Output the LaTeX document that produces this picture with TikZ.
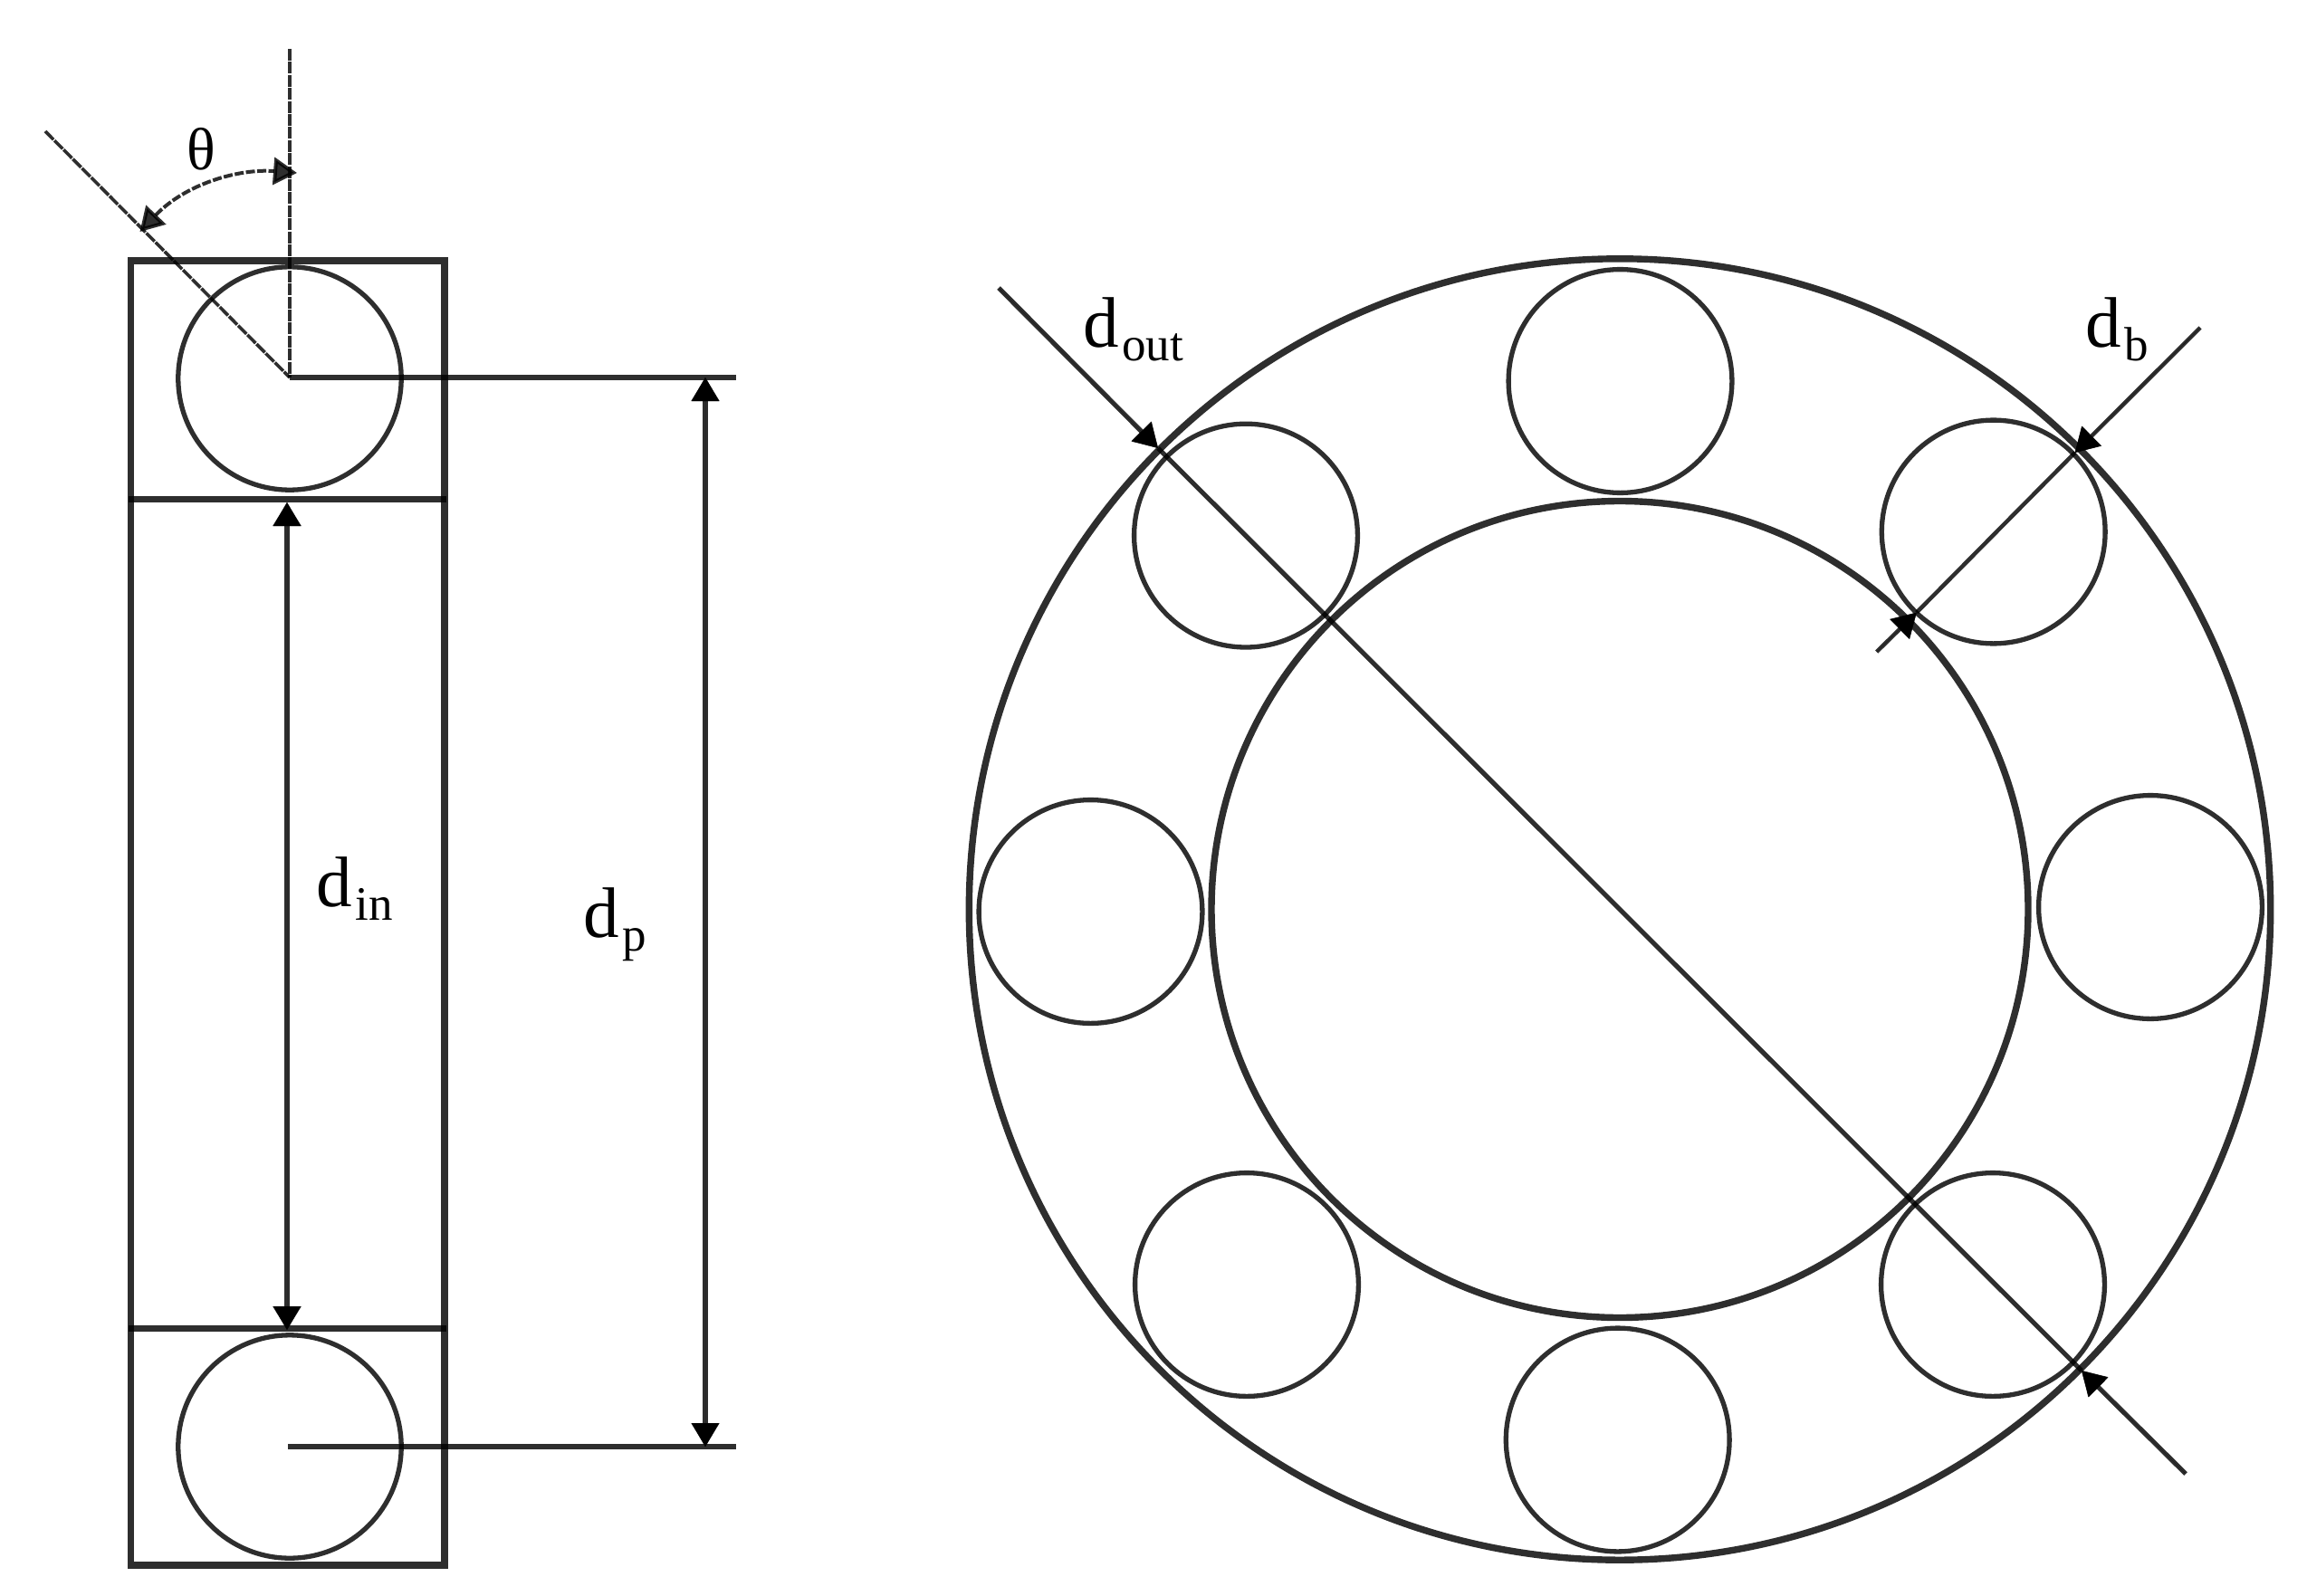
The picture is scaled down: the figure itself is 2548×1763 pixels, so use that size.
\documentclass[tikz,border=0pt]{standalone}
\usepackage{fontspec}
\setmainfont{Liberation Serif}
\usetikzlibrary{arrows.meta}
\newcommand{\dlabel}[1]{\fontsize{79}{79}\selectfont d\kern3.5pt\raisebox{-15pt}{\fontsize{53}{53}\selectfont #1}}
\tikzset{
  ink/.style={draw=black,opacity=.82},
  frame/.style={ink,line width=7.8pt},
  bearingring/.style={ink,line width=7.4pt},
  ball/.style={ink,line width=5.3pt},
  rule/.style={ink,line width=5.8pt},
  fine/.style={ink,line width=3.6pt,dash pattern=on 13pt off 1.4pt},
  headtip/.style={-{Triangle[length=26pt,width=30pt]}},
  dim/.style={ink,line width=#1,headtip,postaction={draw=black,opacity=1,line width=.01pt,headtip}},
  dim/.default=5pt,
  lab/.style={anchor=base west,inner sep=0pt,outer sep=0pt,text=black}
}
\begin{document}
\begin{tikzpicture}[x=1pt,y=-1pt]
\useasboundingbox (0,0) rectangle (2548,1763);
% --- named points, side view
\coordinate (rTL) at (144.5,288);
\coordinate (rBR) at (491,1729);
\coordinate (mAL) at (142,551.5);
\coordinate (mAR) at (493,551.5);
\coordinate (mBL) at (142,1467);
\coordinate (mBR) at (493,1467);
\coordinate (cTop) at (320,418);
\coordinate (cBot) at (320,1598);
\coordinate (vTop) at (320,54);
\coordinate (slant) at (50,145);
\coordinate (axis) at (320,417);
\coordinate (hAe) at (813,417);
\coordinate (hBs) at (318,1598);
\coordinate (hBe) at (813,1598);
\coordinate (pT) at (779,417);
\coordinate (pB) at (779,1598);
\coordinate (pM) at (779,1000);
\coordinate (iT) at (317,555);
\coordinate (iB) at (317,1469);
\coordinate (iM) at (317,1000);
\coordinate (arcA) at (328,191);
\coordinate (arcB) at (154.5,256);
% side view
\draw[frame] (rTL) rectangle (rBR);
\draw[frame,line width=7pt] (mAL) -- (mAR);
\draw[frame,line width=7pt] (mBL) -- (mBR);
\draw[ball] (cTop) circle[radius=123.2pt];
\draw[ball] (cBot) circle[radius=123.2pt];
\draw[fine] (vTop) -- (axis);
\draw[fine] (slant) -- (axis);
\draw[rule] (axis) -- (hAe);
\draw[rule] (hBs) -- (hBe);
\draw[dim=5.2pt] (pM) -- (pT);
\draw[dim=5.2pt] (pM) -- (pB);
\draw[dim=6pt] (iM) -- (iT);
\draw[dim=6pt] (iM) -- (iB);
\draw[ink,line width=4pt,dash pattern=on 10pt off 2.5pt,{Triangle[length=26pt,width=30pt]}-{Triangle[length=26pt,width=30pt]}] (arcB) .. controls (205,203) and (264,186) .. (arcA);
% --- front view
\coordinate (O) at (1789,1004.5);
\draw[bearingring] (O) circle[radius=718.7pt];
\draw[bearingring] (O) circle[radius=451pt];
\foreach \n/\x/\y in {N/1789.5/421,S/1786.7/1590.5,W/1204.5/1007,E/2375/1002,NW/1376/591.6,NE/2201.7/587.5,SE/2201/1419,SW/1377/1419}{
  \coordinate (b\n) at (\x,\y);
  \draw[ball] (b\n) circle[radius=123.4pt];
}
% diagonal
\coordinate (dA) at (1103,318);
\coordinate (dAtip) at (1279,495);
\coordinate (dB) at (2414,1628);
\coordinate (dBtip) at (2299,1514);
\draw[ink,line width=5.2pt] (dAtip) -- (dBtip);
\draw[dim=5.2pt] (dA) -- (dAtip);
\draw[dim=5.2pt] (dB) -- (dBtip);
% ball diameter
\coordinate (eA) at (2430,362);
\coordinate (eAtip) at (2291.7,500);
\coordinate (eB) at (2072.7,720);
\coordinate (eBtip) at (2116.7,676.7);
\draw[ink,line width=4.5pt] (eAtip) -- (eBtip);
\draw[dim=4.5pt] (eA) -- (eAtip);
\draw[dim=4.5pt] (eB) -- (eBtip);
% labels
\node[lab] (ltheta) at (206,187.5) {\fontsize{66}{66}\selectfont θ};
\node[lab] (ldout) at (1196,383) {\dlabel{out}};
\node[lab] (ldb) at (2303,383) {\dlabel{b}};
\node[lab] (ldin) at (349.7,1001.5) {\dlabel{in}};
\node[lab] (ldp) at (644.7,1035.5) {\dlabel{p}};
\end{tikzpicture}
\end{document}
